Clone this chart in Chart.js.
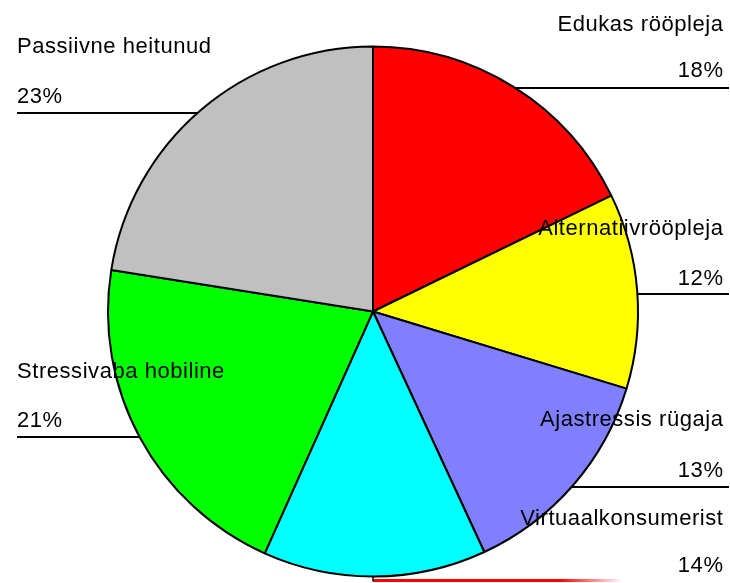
<!DOCTYPE html>
<html>
<head>
<meta charset="utf-8">
<script src="https://cdn.jsdelivr.net/npm/chart.js@4/dist/chart.umd.min.js"></script>
<style>
  html, body { margin: 0; padding: 0; background: #ffffff; }
  #wrap { width: 730px; height: 583px; }
</style>
</head>
<body>
<div id="wrap"><canvas id="c" width="730" height="583"></canvas></div>
<script>
// ---- data ----
const categories = ['Edukas rööpleja', 'Alternatiivrööpleja', 'Ajastressis rügaja', 'Virtuaalkonsumerist', 'Stressivaba hobiline', 'Passiivne heitunud'];
const shares = [17.8, 11.9, 13.4, 13.6, 20.8, 22.5];
const pctLabels = ['18%', '12%', '13%', '14%', '21%', '23%'];
const sliceColors = ['#FF0000', '#FFFF00', '#8080FF', '#00FFFF', '#00FF00', '#C0C0C0'];

// label layout (side, name baseline, percent baseline, leader y)
const labelLayout = [
  { side: 'right', ty: 31,  py: 77,  ly: 88 },
  { side: 'right', ty: 235, py: 285, ly: 294 },
  { side: 'right', ty: 426, py: 477, ly: 487 },
  { side: 'right', ty: 525, py: 572, ly: null },
  { side: 'left',  ty: 378, py: 427, ly: 437 },
  { side: 'left',  ty: 53,  py: 103, ly: 113 }
];

const FONT = '22px "Liberation Sans", Arial, sans-serif';

const labelPlugin = {
  id: 'labelPlugin',
  afterDraw(chart) {
    const ctx = chart.ctx;
    const arc = chart.getDatasetMeta(0).data[0];
    const cx = arc.x, cy = arc.y, r = arc.outerRadius;
    ctx.save();
    ctx.font = FONT;
    if ('letterSpacing' in ctx) ctx.letterSpacing = '0.55px';
    ctx.fillStyle = '#000000';
    ctx.textBaseline = 'alphabetic';
    labelLayout.forEach((L, i) => {
      const right = L.side === 'right';
      ctx.textAlign = right ? 'right' : 'left';
      const tx = right ? 723.5 : 17;
      ctx.fillText(categories[i], tx, L.ty);
      ctx.fillText(pctLabels[i], tx, L.py);
      if (L.ly !== null) {
        const dy = L.ly - cy;
        const dx = Math.sqrt(Math.max(r * r - dy * dy, 0));
        const ex = right ? cx + dx : cx - dx;
        ctx.beginPath();
        ctx.strokeStyle = '#000000';
        ctx.lineWidth = 2;
        ctx.moveTo(right ? 729 : 17, L.ly);
        ctx.lineTo(ex, L.ly);
        ctx.stroke();
      }
    });
    // red leader at the bottom
    const by = cy + r + 4;
    const g = ctx.createLinearGradient(cx, 0, 622, 0);
    g.addColorStop(0, 'rgba(255,0,0,1)');
    g.addColorStop(0.75, 'rgba(255,0,0,1)');
    g.addColorStop(1, 'rgba(255,0,0,0)');
    ctx.beginPath();
    ctx.strokeStyle = g;
    ctx.lineWidth = 3;
    ctx.moveTo(cx, by);
    ctx.lineTo(622, by);
    ctx.stroke();
    ctx.beginPath();
    ctx.strokeStyle = '#000';
    ctx.lineWidth = 1.5;
    ctx.moveTo(cx, cy + r);
    ctx.lineTo(cx, by + 1);
    ctx.stroke();
    ctx.restore();
  }
};

new Chart(document.getElementById('c'), {
  type: 'pie',
  data: {
    labels: categories,
    datasets: [{
      data: shares,
      backgroundColor: sliceColors,
      borderColor: '#000000',
      borderWidth: 2,
      borderAlign: 'center',
      radius: 265
    }]
  },
  options: {
    responsive: false,
    animation: false,
    layout: { padding: { left: 16, right: 0, top: 40, bottom: 0 } },
    plugins: {
      legend: { display: false },
      tooltip: { enabled: false }
    }
  },
  plugins: [labelPlugin]
});
</script>
</body>
</html>
